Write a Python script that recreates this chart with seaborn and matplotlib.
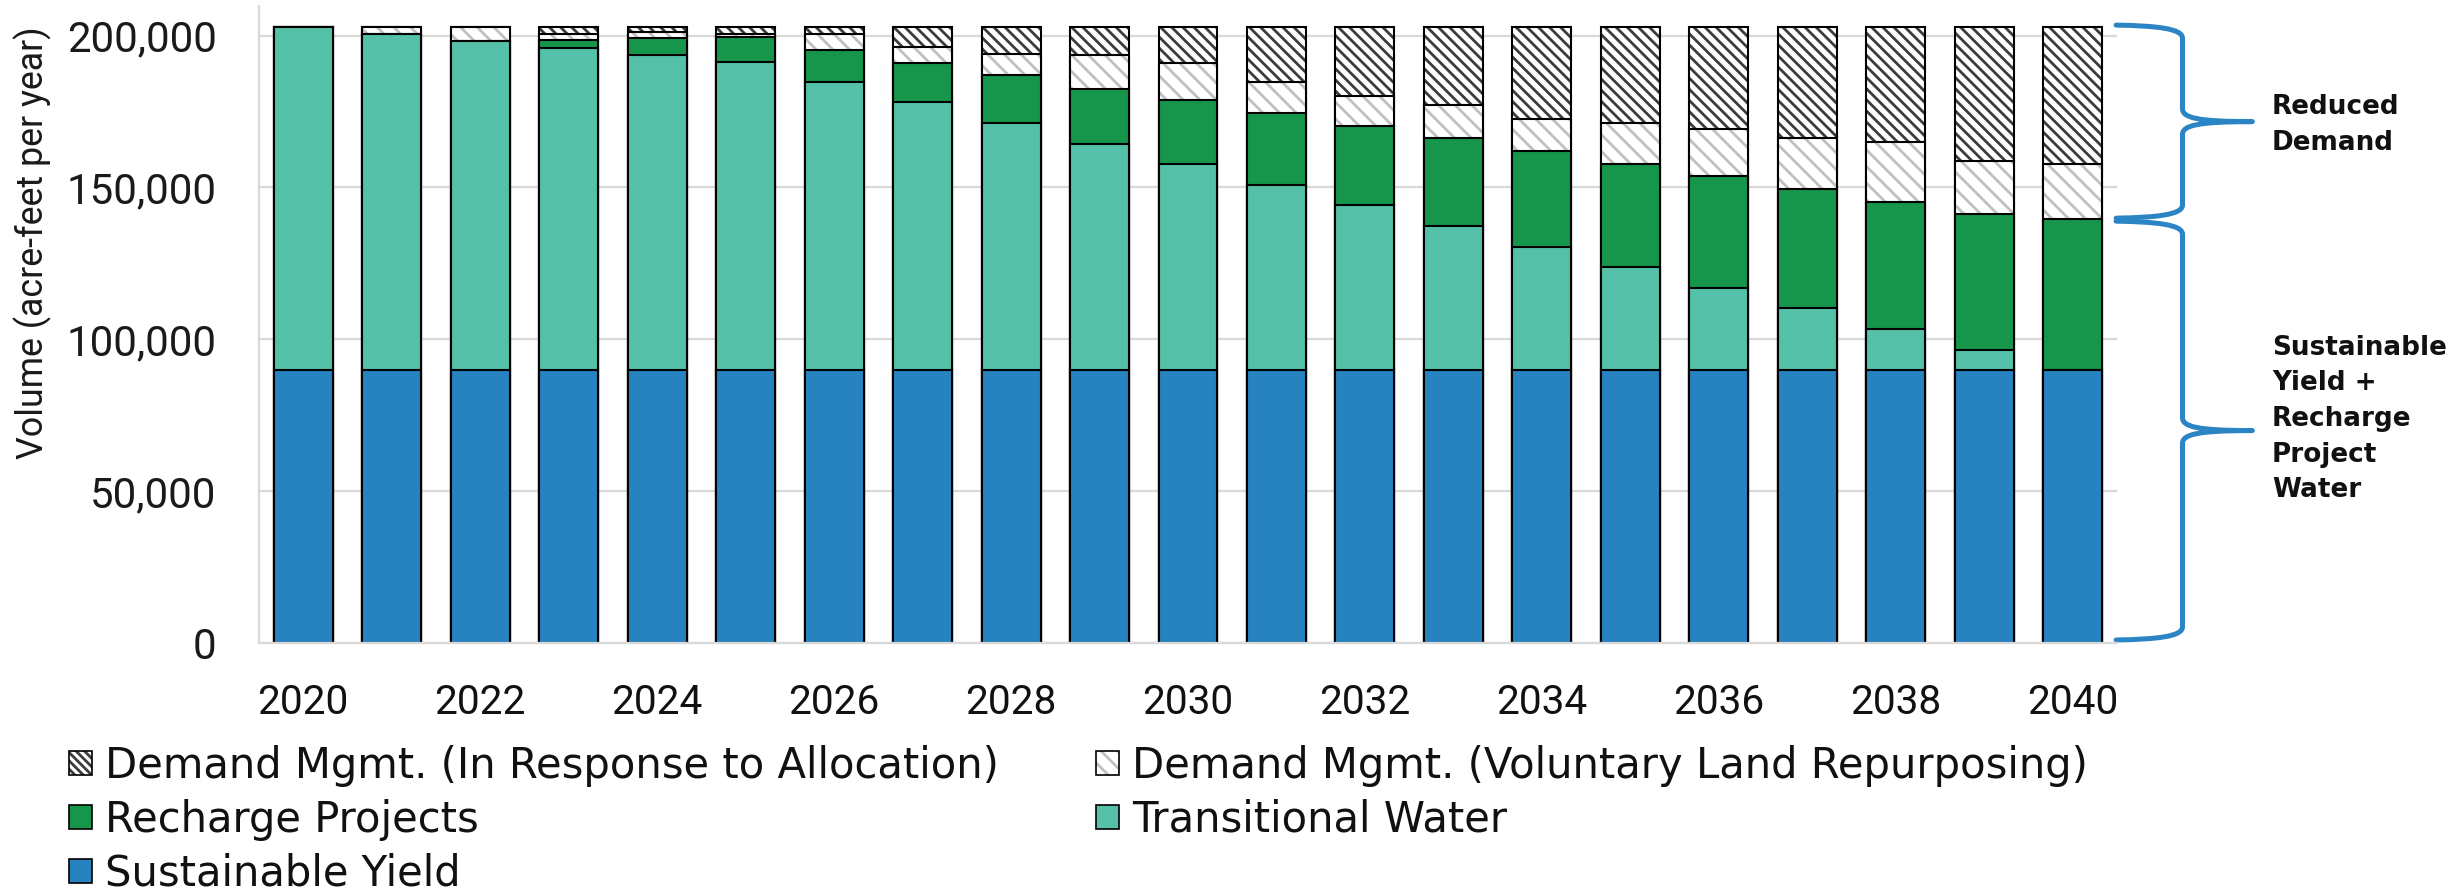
import numpy as np
import pandas as pd
import matplotlib
matplotlib.use("Agg")
import matplotlib.pyplot as plt
from matplotlib import font_manager
from matplotlib.path import Path
from matplotlib.patches import PathPatch, Patch
import seaborn as sns

# ---------------- data ----------------
years = [str(y) for y in range(2020, 2041)]
sustainable_yield = [90000] * 21
transitional_water = [113000, 110600, 108400, 106000, 103800, 101500, 94800, 88100, 81200, 74400,
                      67700, 60900, 54200, 47300, 40500, 33800, 27000, 20200, 13500, 6600, 0]
recharge_projects = [0, 0, 0, 2600, 5400, 8000, 10400, 13000, 15800, 18200,
                     21000, 23500, 26100, 28900, 31500, 34000, 36700, 39400, 41800, 44600, 49700]
dm_voluntary = [0, 2400, 4600, 2100, 2000, 1200, 5300, 5100, 7000, 11000,
                12200, 10200, 10000, 11000, 10700, 13600, 15700, 16800, 19700, 17500, 18100]
dm_allocation = [0, 0, 0, 2300, 1800, 2300, 2500, 6800, 9000, 9400,
                 12100, 18400, 22700, 25800, 30300, 31600, 33600, 36600, 38000, 44300, 45200]

labels = ["Demand Mgmt. (In Response to Allocation)",
          "Demand Mgmt. (Voluntary Land Repurposing)",
          "Recharge Projects", "Transitional Water", "Sustainable Yield"]
brace_labels = ["Reduced\nDemand", "Sustainable\nYield +\nRecharge\nProject\nWater"]
ylabel = "Volume (acre-feet per year)"
yticks = [0, 50000, 100000, 150000, 200000]

# ---------------- styling ----------------
C_SY = "#2782C0"
C_TW = "#55C1A8"
C_RE = "#16964A"
C_HATCH_DARK = "#3c3c3c"
C_HATCH_LIGHT = "#c0c0c0"
C_BRACE = "#2B84C4"
GRID = "#d9d9d9"
TXT = "#111111"

sns.set_style("white")
plt.rcParams["font.family"] = ["DejaVu Sans"]
plt.rcParams["hatch.linewidth"] = 2.0

_names = {f.name for f in font_manager.fontManager.ttflist}
NARROW = next((n for n in ["Liberation Sans Narrow", "Roboto", "DejaVu Sans"] if n in _names),
              "DejaVu Sans")
TICKF = "Roboto" if "Roboto" in _names else "DejaVu Sans"

W, H = 2458, 894
fig = plt.figure(figsize=(W / 100, H / 100), dpi=100)
ax = fig.add_axes([259 / W, (H - 642.7) / H, 1858 / W, 636.7 / H])
renderer = fig.canvas.get_renderer()


def fit_size(text, target_px, family="DejaVu Sans", weight="normal", base=20.0):
    t = fig.text(0, 0, text, fontsize=base, fontweight=weight, family=family)
    w = t.get_window_extent(renderer).width
    t.remove()
    return base * target_px / w


FS_YT = fit_size("200,000", 150, TICKF)
FS_XT = fit_size("2020", 91, TICKF)
FS_YL = fit_size(ylabel, 432, NARROW)
FS_LEG = fit_size(labels[0], 895)
FS_BR = fit_size("Sustainable", 175, weight="bold")

df = pd.DataFrame({
    "year": years,
    "sy": sustainable_yield,
    "tw": transitional_water,
    "re": recharge_projects,
    "vol": dm_voluntary,
    "alloc": dm_allocation,
})
df["c_sy"] = df["sy"]
df["c_tw"] = df["c_sy"] + df["tw"]
df["c_re"] = df["c_tw"] + df["re"]
df["c_vol"] = df["c_re"] + df["vol"]
df["c_alloc"] = df["c_vol"] + df["alloc"]

BW = 0.666
EDGE_LW = 1.5


def hatched_layer(col, hatch, hcolor):
    n0 = len(ax.patches)
    sns.barplot(data=df, x="year", y=col, color="white", edgecolor=hcolor,
                linewidth=0, width=BW, errorbar=None, saturation=1, ax=ax)
    for p in ax.patches[n0:]:
        p.set_hatch(hatch)
    sns.barplot(data=df, x="year", y=col, color="black", fill=False,
                linewidth=EDGE_LW, width=BW, errorbar=None, ax=ax)


def solid_layer(col, color):
    sns.barplot(data=df, x="year", y=col, color=color, edgecolor="black",
                linewidth=EDGE_LW, width=BW, errorbar=None, saturation=1, ax=ax)


hatched_layer("c_alloc", "\\\\\\", C_HATCH_DARK)
hatched_layer("c_vol", "\\\\", C_HATCH_LIGHT)
solid_layer("c_re", C_RE)
solid_layer("c_tw", C_TW)
solid_layer("c_sy", C_SY)

# axes
ax.set_xlim(-0.5, 20.5)
ax.set_ylim(0, 209800)
ax.set_xlabel("")
ax.set_ylabel("")
ax.set_yticks(yticks)
ax.set_yticklabels([f"{v:,}" for v in yticks], family=TICKF)
ax.set_xticks(range(len(years)))
ax.set_xticklabels([y if i % 2 == 0 else "" for i, y in enumerate(years)], family=TICKF)
ax.tick_params(axis="y", length=0, pad=30.5, labelsize=FS_YT, labelcolor="#1a1a1a")
ax.tick_params(axis="x", length=0, pad=29, labelsize=FS_XT, labelcolor=TXT)
ax.yaxis.grid(True, color=GRID, linewidth=1.6)
ax.set_axisbelow(True)
for s in ["top", "right"]:
    ax.spines[s].set_visible(False)
for s in ["left", "bottom"]:
    ax.spines[s].set_color(GRID)
    ax.spines[s].set_linewidth(1.6)

fig.text(33 / W, 1 - 243 / H, ylabel, rotation=90, family=NARROW,
         ha="center", va="center", fontsize=FS_YL, color="#1a1a1a")


# braces
def brace(y_top, y_bot, x0=20.49, x1=21.24, x2=22.03, r=4300):
    mid = (y_top + y_bot) / 2
    verts = [
        (x0, y_top),
        (x0 + 0.6 * (x1 - x0), y_top - 0.05 * r), (x1, y_top - 0.25 * r), (x1, y_top - r),
        (x1, mid + r),
        (x1, mid + 0.3 * r), (x1 + 0.2 * (x2 - x1), mid), (x2, mid),
        (x1 + 0.2 * (x2 - x1), mid), (x1, mid - 0.3 * r), (x1, mid - r),
        (x1, y_bot + r),
        (x1, y_bot + 0.25 * r), (x0 + 0.6 * (x1 - x0), y_bot + 0.05 * r), (x0, y_bot),
    ]
    codes = [Path.MOVETO,
             Path.CURVE4, Path.CURVE4, Path.CURVE4,
             Path.LINETO,
             Path.CURVE4, Path.CURVE4, Path.CURVE4,
             Path.CURVE4, Path.CURVE4, Path.CURVE4,
             Path.LINETO,
             Path.CURVE4, Path.CURVE4, Path.CURVE4]
    pp = PathPatch(Path(verts, codes), facecolor="none", edgecolor=C_BRACE,
                   linewidth=3.6, clip_on=False, capstyle="round", joinstyle="round")
    ax.add_patch(pp)
    return mid


total = df["c_alloc"].max()
split = df["c_re"].iloc[-1]
brace(total + 500, split + 200)
brace(split - 800, 900)

br_px = FS_BR * 100 / 72
tx = 2272 / W
fig.text(tx, 1 - 125 / H, brace_labels[0], ha="left", va="center", fontsize=FS_BR,
         fontweight="bold", linespacing=39 / br_px, color=TXT)
fig.text(tx, 1 - 419 / H, brace_labels[1], ha="left", va="center", fontsize=FS_BR,
         fontweight="bold", linespacing=39 / br_px, color=TXT)

# legend
leg_px = FS_LEG * 100 / 72
h_alloc = Patch(facecolor="white", edgecolor=C_HATCH_DARK, hatch="\\\\\\\\", linewidth=0)
h_vol = Patch(facecolor="white", edgecolor=C_HATCH_LIGHT, hatch="\\\\", linewidth=0)
h_re = Patch(facecolor=C_RE, edgecolor="black", linewidth=1.2)
h_tw = Patch(facecolor=C_TW, edgecolor="black", linewidth=1.2)
h_sy = Patch(facecolor=C_SY, edgecolor="black", linewidth=1.2)
box = Patch(facecolor="none", edgecolor="black", linewidth=1.2)
handles = [(h_alloc, box), h_re, h_sy, (h_vol, box), h_tw]
leg_labels = [labels[0], labels[2], labels[4], labels[1], labels[3]]

target_text_left = 105.0
target_row1_top = 776.7 - 0.76 * leg_px
target_pitch = 54.0
target_col2_left = 1132.0

lspace, cspace = 0.2, 2.0
anchor = [68 / W, 1 - 740 / H]
leg = None
for it in range(3):
    if leg is not None:
        leg.remove()
    leg = fig.legend(handles, leg_labels, ncol=2, loc="upper left",
                     bbox_to_anchor=tuple(anchor), frameon=False,
                     fontsize=FS_LEG, handlelength=23 / leg_px, handleheight=21 / leg_px,
                     handletextpad=13 / leg_px, labelspacing=lspace,
                     columnspacing=cspace, borderpad=0, borderaxespad=0)
    for t in leg.get_texts():
        t.set_color(TXT)
    fig.canvas.draw()
    bbs = [t.get_window_extent(renderer) for t in leg.get_texts()]
    b0, b1, b3 = bbs[0], bbs[1], bbs[3]
    top0 = H - b0.y1
    pitch = b0.y0 - b1.y0
    lspace += (target_pitch - pitch) / leg_px
    cspace += (target_col2_left - b3.x0) / leg_px
    anchor[0] += (target_text_left - b0.x0) / W
    anchor[1] -= (target_row1_top - top0) / H

fig.savefig("out.png", dpi=100)
